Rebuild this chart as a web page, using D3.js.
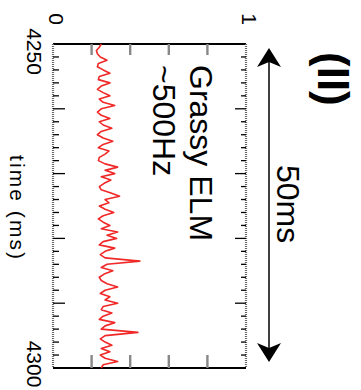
<!DOCTYPE html>
<html>
<head>
<meta charset="utf-8">
<script src="https://cdn.jsdelivr.net/npm/d3@7"></script>
<style>
  html, body { margin: 0; padding: 0; background: #fff; }
  svg { display: block; }
  text { font-family: "Liberation Sans", Arial, Helvetica, sans-serif; fill: #000; }
</style>
</head>
<body>
<script>
// Time axis (ms) and normalised signal axis
const timeDomain = [4250, 4300];
const valueDomain = [0, 1];
const timeTickLabels = [4250, 4300];
const valueTickLabels = [0, 1];

// D-alpha trace sampled every 0.5 ms from 4250 ms
const signalStart = 4250;
const signalStep = 0.5;
const signal = [
  0.25, 0.24, 0.225, 0.23, 0.245, 0.28, 0.235, 0.23, 0.26, 0.295,
  0.24, 0.235, 0.295, 0.25, 0.23, 0.26, 0.295, 0.24, 0.26, 0.32,
  0.25, 0.23, 0.25, 0.295, 0.24, 0.26, 0.305, 0.25, 0.23, 0.26,
  0.31, 0.26, 0.235, 0.29, 0.27, 0.24, 0.235, 0.27, 0.335, 0.27,
  0.32, 0.25, 0.30, 0.265, 0.24, 0.25, 0.30, 0.345, 0.27, 0.29,
  0.24, 0.27, 0.315, 0.26, 0.235, 0.26, 0.295, 0.25, 0.335, 0.28,
  0.33, 0.26, 0.24, 0.32, 0.27, 0.245, 0.27, 0.45, 0.28, 0.25,
  0.31, 0.265, 0.24, 0.25, 0.28, 0.335, 0.27, 0.245, 0.295, 0.27,
  0.335, 0.26, 0.25, 0.305, 0.26, 0.24, 0.32, 0.27, 0.25, 0.44,
  0.27, 0.245, 0.27, 0.305, 0.25, 0.295, 0.245, 0.27, 0.335, 0.26,
  0.25
];

const panelLabel = "(II)";
const regimeLabel = "Grassy ELM";
const freqLabel = "~500Hz";
const spanLabel = "50ms";
const timeTitle = "time (ms)";

// Plot is laid out in its natural orientation, then turned a quarter turn clockwise
const W = 324, H = 193;
const svg = d3.select("body").append("svg").attr("width", 361).attr("height", 390);
const g = svg.append("g").attr("transform", "translate(246,44) rotate(90)");

const x = d3.scaleLinear().domain(timeDomain).range([0, W]);
const y = d3.scaleLinear().domain(valueDomain).range([H, 0]);

// Frame: value-axis sides solid, time-axis sides finely hatched
const hatch = "#666";
g.append("line").attr("x1", 0).attr("x2", 0).attr("y1", 0).attr("y2", H)
  .attr("stroke", "#000").attr("stroke-width", 2);
g.append("line").attr("x1", W).attr("x2", W).attr("y1", 0).attr("y2", H)
  .attr("stroke", "#000").attr("stroke-width", 2);
[0, H].forEach(py => {
  g.append("line").attr("x1", 0).attr("x2", W).attr("y1", py).attr("y2", py)
    .attr("stroke", hatch).attr("stroke-width", 2.2).attr("stroke-dasharray", "1,1");
});

// Time ticks: minor every 2 ms, major every 10 ms
const minorT = x.ticks(25).filter(t => t > timeDomain[0] && t < timeDomain[1]);
const majorT = x.ticks(5).filter(t => t > timeDomain[0] && t < timeDomain[1]);
const isMajor = t => majorT.includes(t);
g.append("g").selectAll("line").data(minorT).join("line")
  .attr("x1", d => x(d)).attr("x2", d => x(d))
  .attr("y1", H).attr("y2", d => H - (isMajor(d) ? 12 : 6))
  .attr("stroke", "#000").attr("stroke-width", 1.3);
g.append("g").selectAll("line").data(minorT).join("line")
  .attr("x1", d => x(d)).attr("x2", d => x(d))
  .attr("y1", 0).attr("y2", d => (isMajor(d) ? 11 : 5))
  .attr("stroke", "#000").attr("stroke-width", 1.3);

// Value ticks on both time ends
const valT = y.ticks(5).filter(v => v > valueDomain[0] && v < valueDomain[1]);
g.append("g").selectAll("line").data(valT).join("line")
  .attr("x1", 0).attr("x2", 11).attr("y1", d => y(d)).attr("y2", d => y(d))
  .attr("stroke", "#888").attr("stroke-width", 2.4);
g.append("g").selectAll("line").data(valT).join("line")
  .attr("x1", W - 13).attr("x2", W).attr("y1", d => y(d)).attr("y2", d => y(d))
  .attr("stroke", "#888").attr("stroke-width", 2.4);

// Signal trace
const line = d3.line()
  .x((d, i) => x(signalStart + i * signalStep))
  .y(d => y(d));
g.append("path").datum(signal).attr("d", line)
  .attr("fill", "none").attr("stroke", "#f02828").attr("stroke-width", 1.6)
  .attr("stroke-linejoin", "round");

// Tick labels
g.append("g").selectAll("text").data(valueTickLabels).join("text")
  .attr("x", -19).attr("y", d => y(d) - 3.5)
  .attr("text-anchor", "end").attr("dominant-baseline", "central")
  .attr("font-size", 21).text(d => d);
const timeLabelShift = { 4250: 7.5, 4300: -4 };
g.append("g").selectAll("text").data(timeTickLabels).join("text")
  .attr("x", d => x(d) + (timeLabelShift[d] || 0)).attr("y", H + 26)
  .attr("text-anchor", "middle").attr("font-size", 21).text(d => d);

g.append("text").attr("x", W / 2 + 1).attr("y", H + 43)
  .attr("text-anchor", "middle").attr("font-size", 21)
  .attr("textLength", 104).attr("lengthAdjust", "spacing").text(timeTitle);

// Annotations inside the frame
g.append("text").attr("x", 21).attr("y", 56).attr("font-size", 32).text(regimeLabel);
g.append("text").attr("x", 21).attr("y", 93).attr("font-size", 32).text(freqLabel);

// 50 ms span arrow above the frame
const ay = -23;
const ax0 = x(timeDomain[0]) + 4, ax1 = x(timeDomain[1]) - 6;
g.append("line").attr("x1", ax0 + 10).attr("x2", ax1 - 10).attr("y1", ay).attr("y2", ay)
  .attr("stroke", "#000").attr("stroke-width", 1.5);
const head = (tip, dir) => {
  const L = 19, Hw = 12, N = 14;
  return `M${tip},${ay} L${tip + dir * L},${ay - Hw} L${tip + dir * N},${ay} L${tip + dir * L},${ay + Hw} Z`;
};
g.append("path").attr("d", head(ax0, 1)).attr("fill", "#000");
g.append("path").attr("d", head(ax1, -1)).attr("fill", "#000");
g.append("text").attr("x", W / 2 - 2).attr("y", -31)
  .attr("text-anchor", "middle").attr("font-size", 32).text(spanLabel);

g.append("text").attr("x", 8).attr("y", -72)
  .attr("font-size", 44).attr("font-weight", "bold").text(panelLabel);
</script>
</body>
</html>
